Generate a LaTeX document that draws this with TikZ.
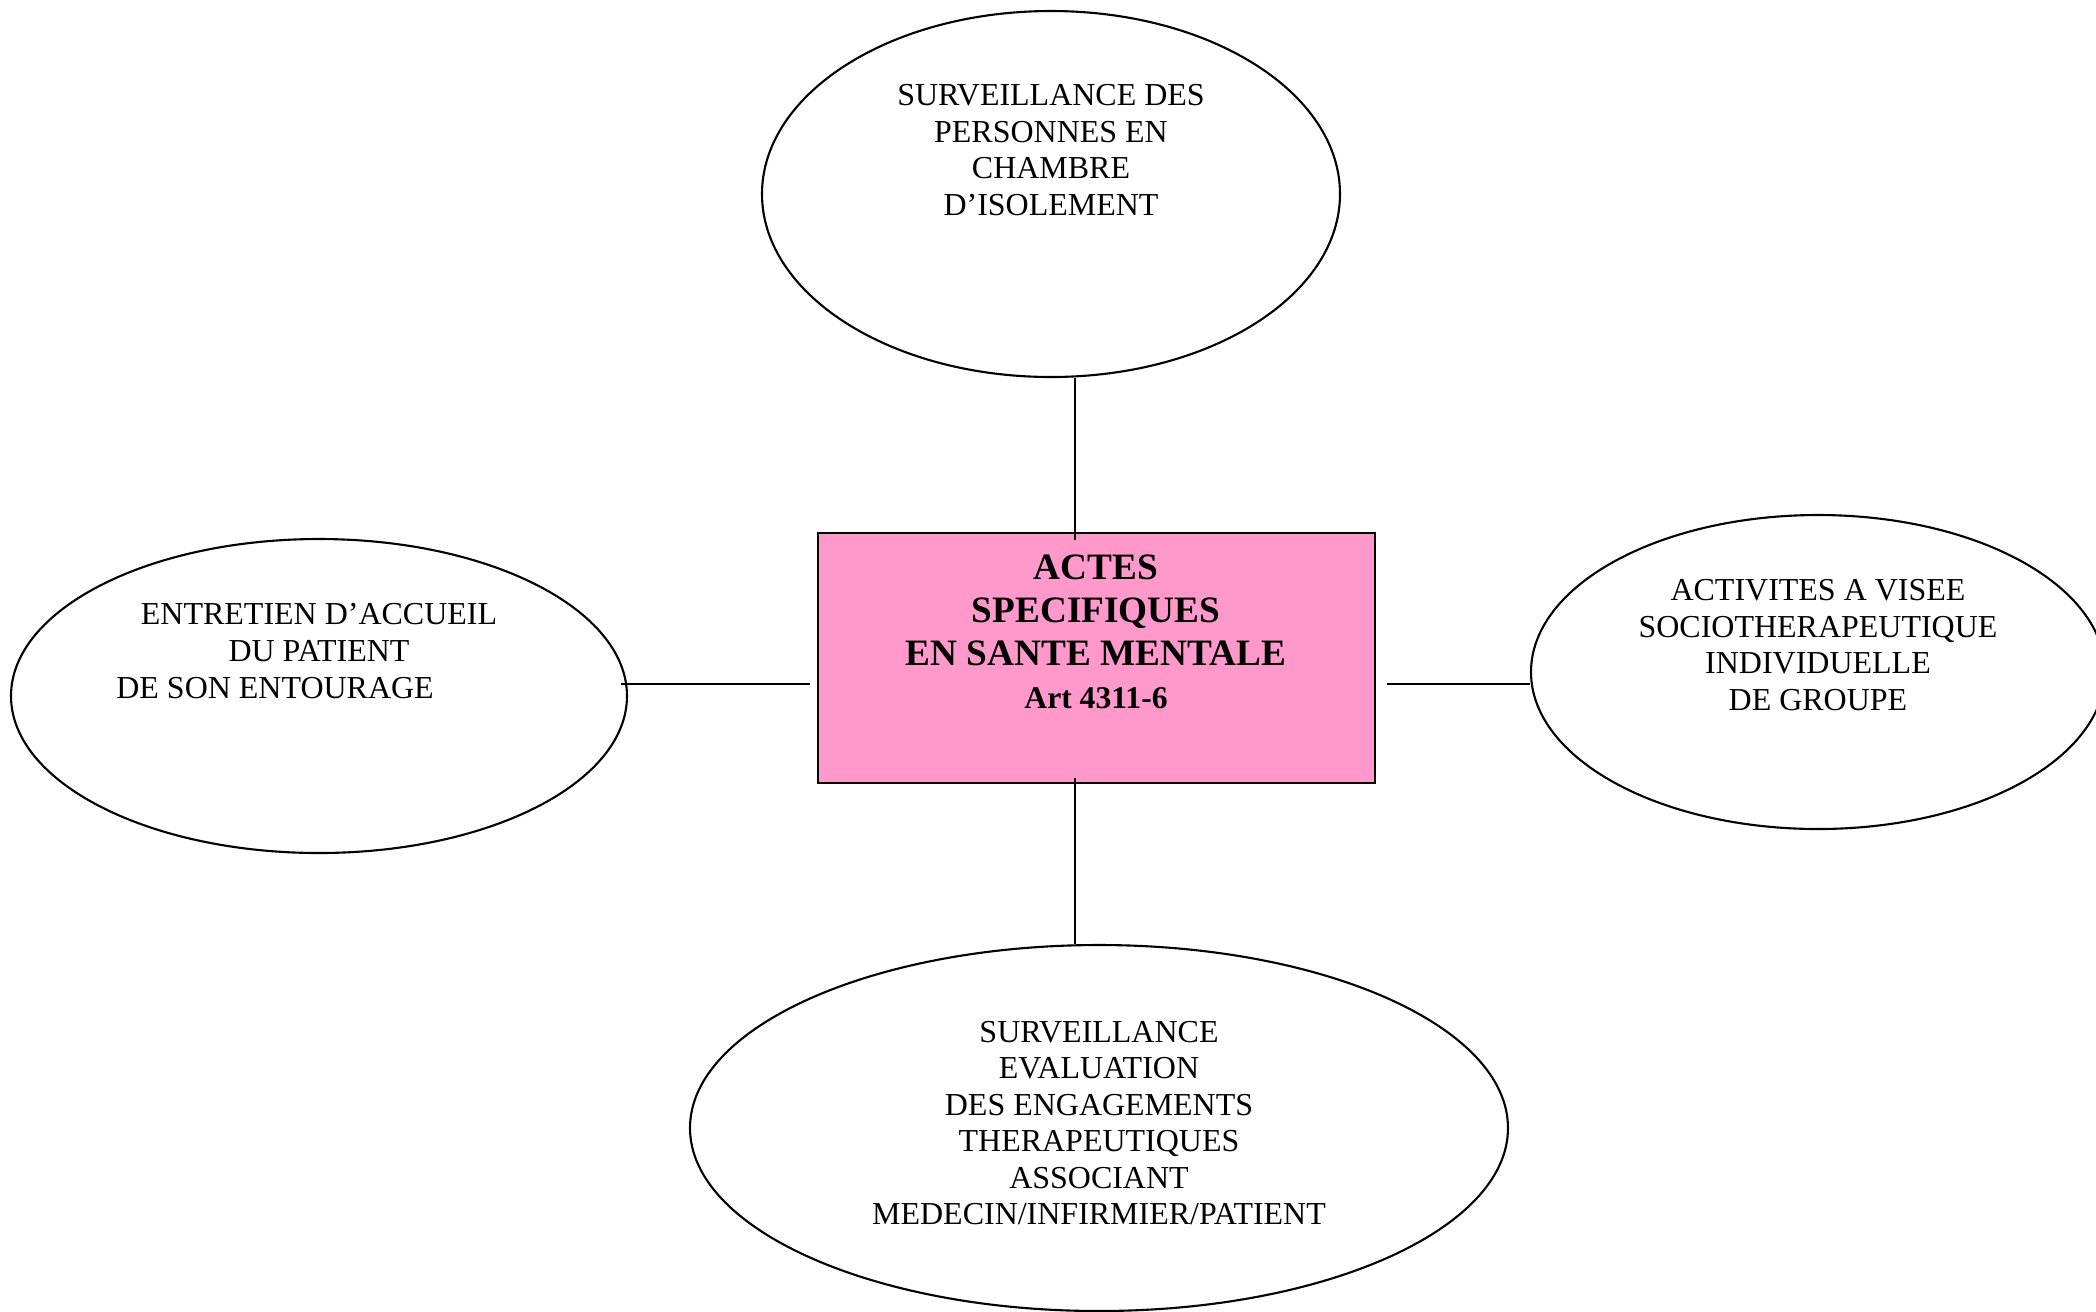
\documentclass[tikz,border=0pt]{standalone}
\usepackage{fontspec}
\setmainfont{Liberation Serif}
\usetikzlibrary{shapes.geometric}
\definecolor{actpink}{RGB}{255,153,204}
\tikzset{
  bulle/.style={draw, ellipse, line width=0.6pt, inner sep=0pt},
  cadre/.style={draw, fill=actpink, line width=0.6pt, inner sep=0pt},
  texte/.style={align=center, inner sep=0pt, font=\fontsize{9.1}{10.4}\selectfont},
  titre/.style={align=center, inner sep=0pt, font=\bfseries\fontsize{10.6}{12.2}\selectfont},
  lien/.style={line width=0.6pt}
}

\begin{document}
\begin{tikzpicture}[x=0.1mm,y=-0.1mm]
\useasboundingbox (0,0) rectangle (2096,1311);

\node[cadre, minimum width=55.7mm, minimum height=25mm] (actes) at (1096.5,658) {};
\node[titre] (actestxt) at (1096,632) {ACTES\\SPECIFIQUES\\EN SANTE MENTALE\\{\fontsize{9}{12}\selectfont Art 4311-6}};

\node[bulle, minimum width=57.8mm, minimum height=36.6mm] (isol) at (1051,194) {};
\node[texte] (isoltxt) at (1051,150) {SURVEILLANCE DES\\PERSONNES EN\\CHAMBRE\\D'ISOLEMENT};

\node[bulle, minimum width=61.6mm, minimum height=31.4mm] (accueil) at (319,696) {};
\node[texte] (accueiltxt) at (319,651) {ENTRETIEN D'ACCUEIL\\DU PATIENT\\DE SON ENTOURAGE\hspace*{25pt}\mbox{}};

\node[bulle, minimum width=57.4mm, minimum height=31.4mm] (socio) at (1818,672) {};
\node[texte] (sociotxt) at (1818,645) {ACTIVITES A VISEE\\SOCIOTHERAPEUTIQUE\\INDIVIDUELLE\\DE GROUPE};

\node[bulle, minimum width=81.8mm, minimum height=36.6mm] (engage) at (1099,1128) {};
\node[texte] (engagetxt) at (1099,1123) {SURVEILLANCE\\EVALUATION\\DES ENGAGEMENTS\\THERAPEUTIQUES\\ASSOCIANT\\MEDECIN/INFIRMIER/PATIENT};

\coordinate (vx) at (1075,0);
\coordinate (hy) at (0,684);
\draw[lien, shorten >=-0.8mm] (isol.south -| vx) -- (actes.north -| vx);
\draw[lien, shorten <=-0.6mm] (actes.south -| vx) -- (engage.north -| vx);
\draw[lien, shorten <=-0.7mm, shorten >=0.7mm] (accueil.east |- hy) -- (actes.west |- hy);
\draw[lien, shorten <=1.1mm] (actes.east |- hy) -- (socio.west |- hy);
\end{tikzpicture}
\end{document}
